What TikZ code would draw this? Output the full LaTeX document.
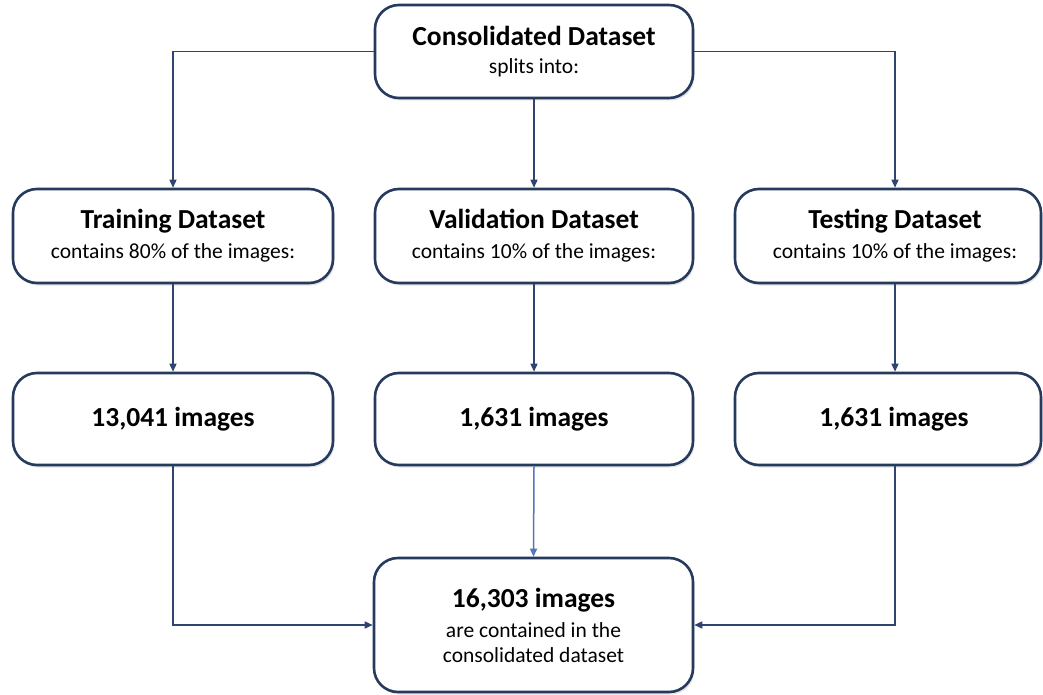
\documentclass[tikz,border=0pt]{standalone}
\usepackage{fontspec}
\setmainfont{Carlito}
\usetikzlibrary{arrows.meta,shadows}

\definecolor{boxline}{HTML}{253A5C}
\definecolor{wire}{HTML}{2F4570}
\definecolor{wirelight}{HTML}{5377B8}

\newcommand{\headfont}{\fontsize{27.5}{30}\selectfont\bfseries}
\newcommand{\notefont}{\fontsize{21.5}{28}\selectfont}

\begin{document}
\begin{tikzpicture}[x=1pt, y=-1pt,
  box/.style={draw=boxline, line width=2.6pt, rounded corners=24pt, fill=white,
    inner sep=0pt, align=center, font=\fontsize{21.5}{30}\selectfont,
    drop shadow={opacity=0.22, shadow xshift=1.5pt, shadow yshift=-2.5pt}},
  label/.style={inner sep=0pt, align=center, font=\fontsize{21.5}{30}\selectfont},
  link/.style={draw=wire, line width=1.5pt, -{Triangle[length=8pt,width=7pt]}},
  lightlink/.style={link, draw=wirelight}]

  % canvas
  \fill[white] (0,0) rectangle (1043,695);
  \useasboundingbox (0,0) rectangle (1043,695);

  % top level
  \node[box, minimum width=318pt, minimum height=93pt,
        font=\fontsize{21.5}{28}\selectfont] (top) at (534,51.5)
    {{\headfont Consolidated Dataset}\\{\notefont splits into:}};

  % dataset splits
  \node[box, minimum width=320pt, minimum height=94pt] (trn) at (173,236)
    {{\headfont Training Dataset}\\{\notefont contains 80\% of the images:}};
  \node[box, minimum width=318pt, minimum height=94pt] (val) at (534,236)
    {{\headfont Validation Dataset}\\{\notefont contains 10\% of the images:}};
  \node[box, minimum width=306pt, minimum height=94pt] (tst) at (888,236) {};
  \node[label] (tsttxt) at (895,236)
    {{\headfont Testing Dataset}\\{\notefont contains 10\% of the images:}};

  % image counts
  \node[box, minimum width=320pt, minimum height=92pt] (trnn) at (173,419)
    {\headfont 13,041 images};
  \node[box, minimum width=318pt, minimum height=92pt] (valn) at (534,419)
    {\headfont 1,631 images};
  \node[box, minimum width=306pt, minimum height=92pt] (tstn) at (888,419) {};
  \node[label] (tstntxt) at (894,419) {\headfont 1,631 images};

  % total
  \node[box, minimum width=319pt, minimum height=134pt,
        font=\fontsize{21.5}{25}\selectfont] (sum) at (533.5,625)
    {{\headfont 16,303 images}\\[5pt]{\notefont are contained in the}\\{\notefont consolidated dataset}};

  % connectors
  \draw[link] (top.west) -| (trn.north);
  \draw[link] (top.south) -- (val.north);
  \draw[link] (top.east) -| (tsttxt |- tst.north);

  \draw[link] (trn.south) -- (trnn.north);
  \draw[link] (val.south) -- (valn.north);
  \draw[link] (tsttxt |- tst.south) -- (tsttxt |- tstn.north);

  \draw[link] (trnn.south) |- (sum.west);
  \draw[lightlink] (valn.south) -- (sum.north);
  \draw[link] (tsttxt |- tstn.south) |- (sum.east);
\end{tikzpicture}
\end{document}
